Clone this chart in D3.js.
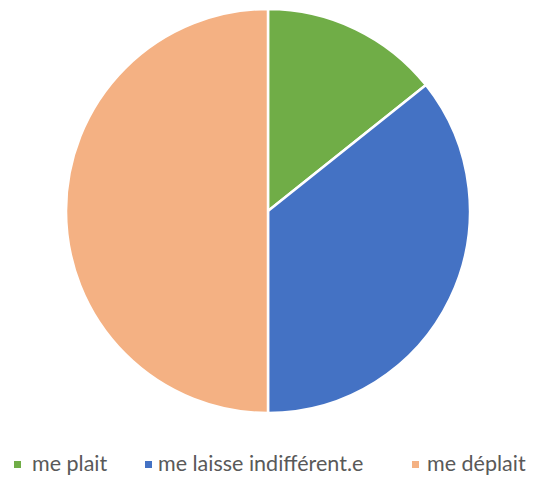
<!DOCTYPE html>
<html><head><meta charset="utf-8">
<script src="https://cdn.jsdelivr.net/npm/d3@7"></script>
<style>body{margin:0;background:#fff}</style>
</head><body>
<script>
const categories = ["me plait", "me laisse indifférent.e", "me déplait"];
const values = [2, 5, 7];
const colors = ["#70AD47", "#4472C4", "#F4B183"];

const W = 533, H = 477;
const svg = d3.select("body").append("svg").attr("width", W).attr("height", H);
const cx = 268, cy = 211, r = 202;
const pie = d3.pie().sort(null).value(d => d)(values);
const arc = d3.arc().innerRadius(0).outerRadius(r);
const color = d3.scaleOrdinal().domain(categories).range(colors);
svg.append("g").attr("transform", `translate(${cx},${cy})`)
  .selectAll("path").data(pie).join("path")
  .attr("d", arc)
  .attr("fill", (d, i) => color(categories[i]))
  .attr("stroke", "#fff").attr("stroke-width", 2.5).attr("stroke-linejoin", "round");

const markerX = [14, 145, 412];
const textX = [32, 158, 427];
const lg = svg.append("g");
categories.forEach((c, i) => {
  lg.append("rect").attr("x", markerX[i]).attr("y", 461).attr("width", 7).attr("height", 7).attr("fill", color(c));
  lg.append("text").attr("x", textX[i]).attr("y", 471)
    .attr("font-family", "Lato, sans-serif").attr("font-size", 21.5).attr("fill", "#595959").text(c);
});
</script>
</body></html>
